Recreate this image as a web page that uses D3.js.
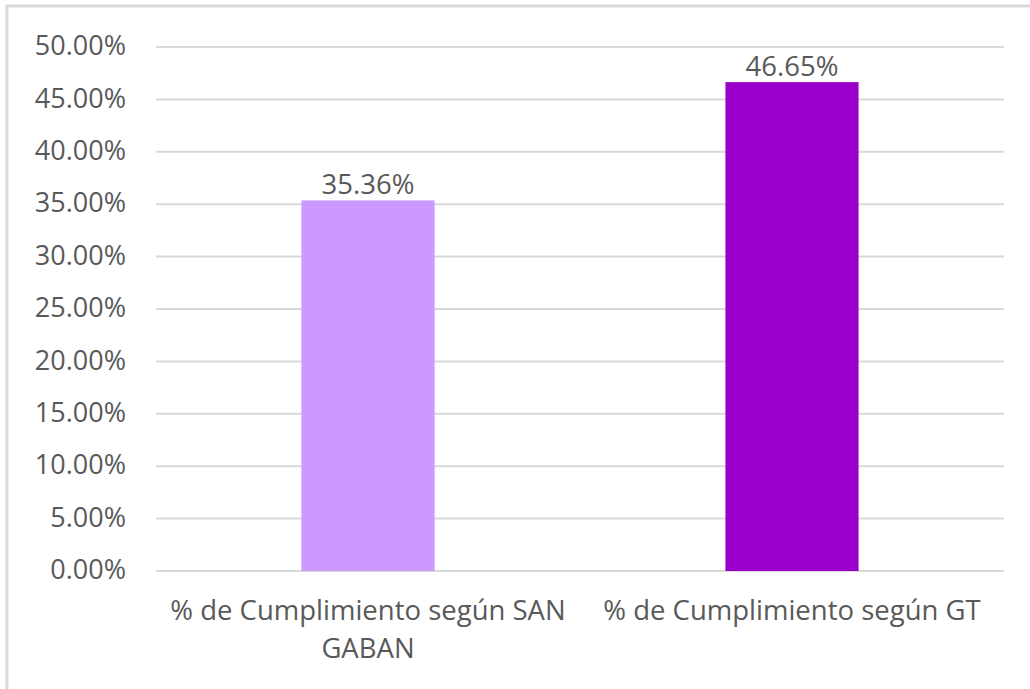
<!DOCTYPE html>
<html>
<head>
<meta charset="utf-8">
<script src="https://cdn.jsdelivr.net/npm/d3@7"></script>
<style>
  body { margin: 0; background: #fff; }
  text { font-family: "Open Sans", "Liberation Sans", sans-serif; fill: #595959; }
</style>
</head>
<body>
<div id="chart"></div>
<script>
// chart values
var categories = ["% de Cumplimiento según SAN GABAN", "% de Cumplimiento según GT"];
var values = [0.3536, 0.4665];
var barColors = ["#CC99FF", "#9900CC"];
var yTicks = [0, 0.05, 0.10, 0.15, 0.20, 0.25, 0.30, 0.35, 0.40, 0.45, 0.50];

var width = 1030, height = 689;
var margin = {top: 47, right: 26, bottom: 118, left: 156};

var svg = d3.select("#chart").append("svg")
    .attr("width", width)
    .attr("height", height);

//outer frame (cut off at right and bottom like the reference)
svg.append("rect")
    .attr("x", 7).attr("y", 6)
    .attr("width", width + 20).attr("height", height + 20)
    .attr("fill", "none")
    .attr("stroke", "#d9d9d9")
    .attr("stroke-width", 3);

var x = d3.scaleBand()
    .domain(categories)
    .range([margin.left, width - margin.right])
    .paddingInner(0.686)
    .paddingOuter(0.343);

var y = d3.scaleLinear()
    .domain([0, 0.5])
    .range([height - margin.bottom, margin.top]);

//gridlines
svg.append("g")
    .selectAll("line")
    .data(yTicks)
    .enter().append("line")
    .attr("x1", margin.left)
    .attr("x2", width - margin.right)
    .attr("y1", function(d) { return y(d); })
    .attr("y2", function(d) { return y(d); })
    .attr("stroke", "#d9d9d9")
    .attr("stroke-width", 2);

//y axis labels
var yAxis = svg.append("g")
    .attr("transform", "translate(" + (margin.left - 30) + ",-1)")
    .call(d3.axisLeft(y).tickValues(yTicks).tickSize(0).tickPadding(0)
      .tickFormat(function(d) { return (d * 100).toFixed(2) + "%"; }));
yAxis.select(".domain").remove();
yAxis.selectAll("text")
    .attr("font-size", "27px")
    .attr("font-family", null)
    .attr("fill", "#595959");

//bars
svg.append("g")
    .selectAll("rect")
    .data(values)
    .enter().append("rect")
    .attr("x", function(d, i) { return x(categories[i]); })
    .attr("y", function(d) { return y(d); })
    .attr("width", x.bandwidth())
    .attr("height", function(d) { return y(0) - y(d); })
    .attr("fill", function(d, i) { return barColors[i]; });

//value labels
svg.append("g")
    .selectAll("text")
    .data(values)
    .enter().append("text")
    .attr("x", function(d, i) { return x(categories[i]) + x.bandwidth() / 2; })
    .attr("y", function(d) { return y(d) - 6; })
    .attr("text-anchor", "middle")
    .attr("font-size", "27.5px")
    .text(function(d) { return (d * 100).toFixed(2) + "%"; });

//category labels, wrapped to the band step
var maxW = x.step() - 6;
var catLabels = svg.append("g")
    .selectAll("text")
    .data(categories)
    .enter().append("text")
    .attr("x", function(d) { return x(d) + x.bandwidth() / 2; })
    .attr("y", 620)
    .attr("text-anchor", "middle")
    .attr("font-size", "27.5px");

catLabels.each(function(d) {
  var t = d3.select(this);
  var words = d.split(" ");
  var line = [];
  var tspan = t.append("tspan").attr("x", t.attr("x")).attr("dy", 0);
  words.forEach(function(w) {
    line.push(w);
    tspan.text(line.join(" "));
    if (tspan.node().getComputedTextLength() > maxW && line.length > 1) {
      line.pop();
      tspan.text(line.join(" "));
      line = [w];
      tspan = t.append("tspan").attr("x", t.attr("x")).attr("dy", 38).text(w);
    }
  });
});
</script>
</body>
</html>
